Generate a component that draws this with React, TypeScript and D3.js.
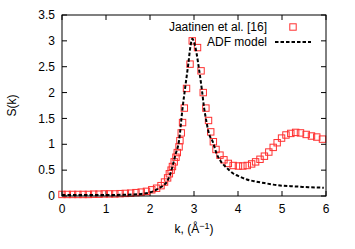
import { useEffect, useRef } from 'react';
import * as d3 from 'd3';

// experimental points (Jaatinen et al.)
const expK = [0, 0.12, 0.24, 0.36, 0.48, 0.6, 0.72, 0.84, 0.96, 1.08, 1.2, 1.32, 1.44, 1.56, 1.68, 1.8,
  1.92, 2.04, 2.15, 2.25, 2.33, 2.4, 2.44, 2.48, 2.51, 2.55, 2.59, 2.62, 2.66, 2.68, 2.71, 2.74, 2.78, 2.83,
  2.91, 2.96, 3.08, 3.16, 3.21, 3.27, 3.33, 3.38, 3.44, 3.5, 3.59, 3.68, 3.78, 3.89, 4.01, 4.11, 4.21, 4.31,
  4.4, 4.5, 4.6, 4.7, 4.8, 4.89, 4.99, 5.09, 5.2, 5.31, 5.42, 5.55, 5.67, 5.79, 5.92];
const expS = [0.03, 0.03, 0.03, 0.03, 0.03, 0.03, 0.035, 0.035, 0.04, 0.04, 0.04, 0.045, 0.05, 0.055, 0.065, 0.075,
  0.09, 0.12, 0.15, 0.2, 0.27, 0.35, 0.43, 0.5, 0.57, 0.66, 0.75, 0.84, 0.95, 1.07, 1.22, 1.42, 1.7, 2.08,
  2.55, 3.0, 2.87, 2.42, 2.0, 1.7, 1.46, 1.24, 1.05, 0.9, 0.79, 0.7, 0.63, 0.59, 0.58, 0.58, 0.59, 0.62,
  0.66, 0.71, 0.77, 0.85, 0.94, 1.03, 1.12, 1.18, 1.21, 1.23, 1.22, 1.19, 1.16, 1.14, 1.1];

// ADF model curve
const adfK = [0, 0.5, 1.0, 1.5, 1.8, 2.0, 2.1, 2.2, 2.3, 2.38, 2.45, 2.51, 2.58, 2.66, 2.74, 2.8, 2.87, 2.92,
  2.96, 3.0, 3.06, 3.12, 3.18, 3.23, 3.28, 3.33, 3.44, 3.5, 3.6, 3.7, 3.8, 3.9, 4.0, 4.2, 4.4, 4.6, 4.8,
  5.0, 5.2, 5.4, 5.6, 5.8, 5.95];
const adfS = [0.02, 0.02, 0.02, 0.025, 0.04, 0.07, 0.1, 0.15, 0.2, 0.27, 0.4, 0.57, 0.8, 1.07, 1.7, 2.1, 2.55, 2.9,
  3.04, 2.98, 2.75, 2.42, 2.05, 1.7, 1.45, 1.24, 1.02, 0.85, 0.68, 0.58, 0.5, 0.43, 0.39, 0.32, 0.28, 0.25, 0.22,
  0.2, 0.19, 0.18, 0.17, 0.165, 0.16];

const xTicks = [0, 1, 2, 3, 4, 5, 6];
const yTicks = [0, 0.5, 1, 1.5, 2, 2.5, 3, 3.5];
const legendLabels = ['Jaatinen et al. [16]', 'ADF model'];

const W = 355, H = 249;
const M = { left: 62, right: 29, top: 15, bottom: 53 };
const FONT = '"Liberation Sans", Arial, sans-serif';
const FS = '12px';

export default function App() {
  const svgRef = useRef<SVGSVGElement>(null);

  useEffect(() => {
    if (!svgRef.current) return;
    const svg = d3.select(svgRef.current);
    svg.selectAll('*').remove();

    const x = d3.scaleLinear().domain([0, 6]).range([M.left, W - M.right]);
    const y = d3.scaleLinear().domain([0, 3.5]).range([H - M.bottom, M.top]);
    const x0 = x.range()[0], x1 = x.range()[1];
    const y0 = y.range()[0], y1 = y.range()[1];
    const tl = 5;

    const g = svg.append('g');

    // ticks (inward, mirrored)
    xTicks.forEach(t => {
      g.append('line').attr('x1', x(t)).attr('x2', x(t)).attr('y1', y0).attr('y2', y0 - tl)
        .attr('stroke', '#000').attr('stroke-width', 1);
      g.append('line').attr('x1', x(t)).attr('x2', x(t)).attr('y1', y1).attr('y2', y1 + tl)
        .attr('stroke', '#000').attr('stroke-width', 1);
      g.append('text').attr('x', x(t)).attr('y', y0 + 13).attr('dy', '0.35em')
        .attr('text-anchor', 'middle').style('font-family', FONT).style('font-size', FS)
        .text(String(t));
    });
    yTicks.forEach(t => {
      g.append('line').attr('x1', x0).attr('x2', x0 + tl).attr('y1', y(t)).attr('y2', y(t))
        .attr('stroke', '#000').attr('stroke-width', 1);
      g.append('line').attr('x1', x1).attr('x2', x1 - tl).attr('y1', y(t)).attr('y2', y(t))
        .attr('stroke', '#000').attr('stroke-width', 1);
      g.append('text').attr('x', x0 - 7).attr('y', y(t)).attr('dy', '0.35em')
        .attr('text-anchor', 'end').style('font-family', FONT).style('font-size', FS)
        .text(String(t));
    });

    // axis labels
    g.append('text').attr('transform', `translate(12,${(y0 + y1) / 2}) rotate(-90)`)
      .attr('dy', '0.35em').attr('text-anchor', 'middle')
      .style('font-family', FONT).style('font-size', FS).text('S(k)');
    const xl = g.append('text').attr('x', (x0 + x1) / 2).attr('y', 233)
      .attr('text-anchor', 'middle').style('font-family', FONT).style('font-size', FS);
    xl.append('tspan').text('k, (Å');
    xl.append('tspan').attr('dy', -4).style('font-size', '9px').text('−1');
    xl.append('tspan').attr('dy', 4).text(')');

    // experimental squares
    const s = 3.2;
    g.append('g').selectAll('rect').data(expK).enter().append('rect')
      .attr('x', (d) => x(d) - s).attr('y', (_d, i) => y(expS[i]) - s)
      .attr('width', 2 * s).attr('height', 2 * s)
      .attr('fill', 'none').attr('stroke', '#ff3030').attr('stroke-width', 1);

    // ADF model
    const line = d3.line<number>().x(d => x(d)).y((_d, i) => y(adfS[i])).curve(d3.curveMonotoneX);
    g.append('path').attr('d', line(adfK)).attr('fill', 'none').attr('stroke', '#000')
      .attr('stroke-width', 2).attr('stroke-dasharray', '3.5,2');

    // legend
    const lx = 267;
    const ly = [27, 42];
    legendLabels.forEach((lab, i) => {
      g.append('text').attr('x', lx).attr('y', ly[i]).attr('dy', '0.35em').attr('text-anchor', 'end')
        .style('font-family', FONT).style('font-size', FS).text(lab);
    });
    g.append('rect').attr('x', 293 - s).attr('y', ly[0] - s).attr('width', 2 * s).attr('height', 2 * s)
      .attr('fill', 'none').attr('stroke', '#ff3030').attr('stroke-width', 1);
    g.append('line').attr('x1', 275).attr('x2', 311).attr('y1', ly[1]).attr('y2', ly[1])
      .attr('stroke', '#000').attr('stroke-width', 2).attr('stroke-dasharray', '3.5,2');

    // frame
    g.append('rect').attr('x', x0).attr('y', y1).attr('width', x1 - x0).attr('height', y0 - y1)
      .attr('fill', 'none').attr('stroke', '#000').attr('stroke-width', 1);
  }, []);

  return (
    <svg ref={svgRef} width={W} height={H}
      style={{ position: 'absolute', left: 0, top: 0, background: '#fff' }} />
  );
}
